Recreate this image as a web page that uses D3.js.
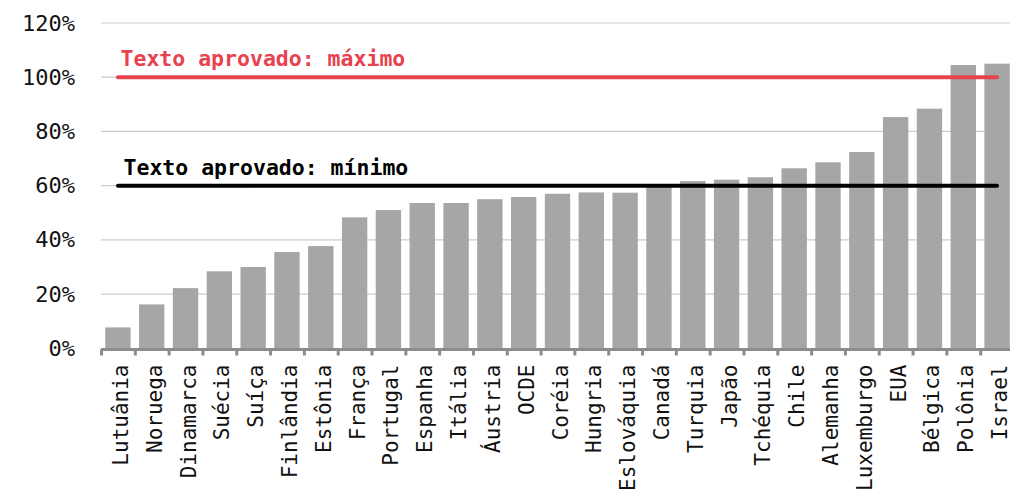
<!DOCTYPE html>
<html>
<head>
<meta charset="utf-8">
<script src="https://cdn.jsdelivr.net/npm/d3@7"></script>
<style>
  body { margin: 0; background: #fff; }
  svg text { font-family: "DejaVu Sans Mono", monospace; }
</style>
</head>
<body>
<script>
//chart data
var countries = ["Lutuânia", "Noruega", "Dinamarca", "Suécia", "Suíça", "Finlândia", "Estônia",
    "França", "Portugal", "Espanha", "Itália", "Áustria", "OCDE", "Coréia", "Hungria",
    "Eslováquia", "Canadá", "Turquia", "Japão", "Tchéquia", "Chile", "Alemanha",
    "Luxemburgo", "EUA", "Bélgica", "Polônia", "Israel"];
var values = [7.7, 16.2, 22.2, 28.4, 30.0, 35.5, 37.7,
    48.3, 51.0, 53.6, 53.6, 55.0, 55.8, 57.0, 57.5,
    57.4, 60.3, 61.7, 62.2, 63.1, 66.4, 68.6,
    72.4, 85.3, 88.4, 104.5, 105.0];
var yTicks = [0, 20, 40, 60, 80, 100, 120];
var refValues = [100, 60];
var refLabels = ["Texto aprovado: máximo", "Texto aprovado: mínimo"];

window.onload = drawChart();

function drawChart(){

    var width = 1010,
        height = 494;

    var svg = d3.select("body")
        .append("svg")
        .attr("width", width)
        .attr("height", height);

    //scales
    var x = d3.scaleBand()
        .domain(countries)
        .range([101, 1014])
        .paddingInner(0.25)
        .paddingOuter(0.125);

    var y = d3.scaleLinear()
        .domain([0, 120])
        .range([348.3, 23]);

    //gridlines behind the bars
    svg.append("g")
        .selectAll("line")
        .data(yTicks.slice(1))
        .enter()
        .append("line")
        .attr("x1", 101)
        .attr("x2", width)
        .attr("y1", function(d){ return y(d); })
        .attr("y2", function(d){ return y(d); })
        .attr("stroke", "#cccccc")
        .attr("stroke-width", 1.2);

    //bars
    svg.append("g")
        .selectAll("rect")
        .data(values)
        .enter()
        .append("rect")
        .attr("x", function(d, i){ return x(countries[i]); })
        .attr("width", x.bandwidth())
        .attr("y", function(d){ return y(d); })
        .attr("height", function(d){ return y(0) - y(d); })
        .attr("fill", "#a6a6a6");

    //y axis labels
    var yAxis = svg.append("g")
        .attr("transform", "translate(75,0)")
        .call(d3.axisLeft(y)
            .tickValues(yTicks)
            .tickFormat(function(d){ return d + "%"; })
            .tickSize(0)
            .tickPadding(0));
    yAxis.select(".domain").remove();
    yAxis.selectAll("text")
        .attr("fill", "#111")
        .style("font-size", "22px")
        .style("font-family", "DejaVu Sans Mono");

    //x axis: baseline, boundary ticks and rotated labels
    var xAxis = svg.append("g")
        .attr("transform", "translate(0,349.5)")
        .call(d3.axisBottom(x).tickSize(0).tickPadding(0));
    xAxis.select(".domain").remove();
    xAxis.selectAll("text")
        .attr("transform", "rotate(-90)")
        .attr("x", -15)
        .attr("y", -x.bandwidth() / 2 + 10 + x.bandwidth() / 2)
        .attr("dy", 0)
        .attr("fill", "#111")
        .style("text-anchor", "end")
        .style("font-size", "21px")
        .style("font-family", "DejaVu Sans Mono");

    var step = x.step();
    xAxis.append("line")
        .attr("x1", 101)
        .attr("x2", width)
        .attr("stroke", "#8c8c8c")
        .attr("stroke-width", 3);
    xAxis.selectAll(".bound")
        .data(d3.range(countries.length + 1))
        .enter()
        .append("line")
        .attr("class", "bound")
        .attr("x1", function(i){ return 101.5 + i * step; })
        .attr("x2", function(i){ return 101.5 + i * step; })
        .attr("y1", 0)
        .attr("y2", 6)
        .attr("stroke", "#8c8c8c")
        .attr("stroke-width", 3);

    //reference lines
    var refColors = ["#e84150", "#000000"];
    var labelX = [120.5, 123.5];
    var refs = svg.append("g")
        .selectAll("g")
        .data(refValues)
        .enter()
        .append("g");
    refs.append("line")
        .attr("x1", 118)
        .attr("x2", 997)
        .attr("y1", function(d){ return y(d); })
        .attr("y2", function(d){ return y(d); })
        .attr("stroke", function(d, i){ return refColors[i]; })
        .attr("stroke-width", 4)
        .attr("stroke-linecap", "round");
    refs.append("text")
        .attr("x", function(d, i){ return labelX[i]; })
        .attr("y", function(d){ return y(d) - 11; })
        .attr("fill", function(d, i){ return refColors[i]; })
        .style("font-size", "21.5px")
        .style("font-weight", "bold")
        .text(function(d, i){ return refLabels[i]; });
};
</script>
</body>
</html>
